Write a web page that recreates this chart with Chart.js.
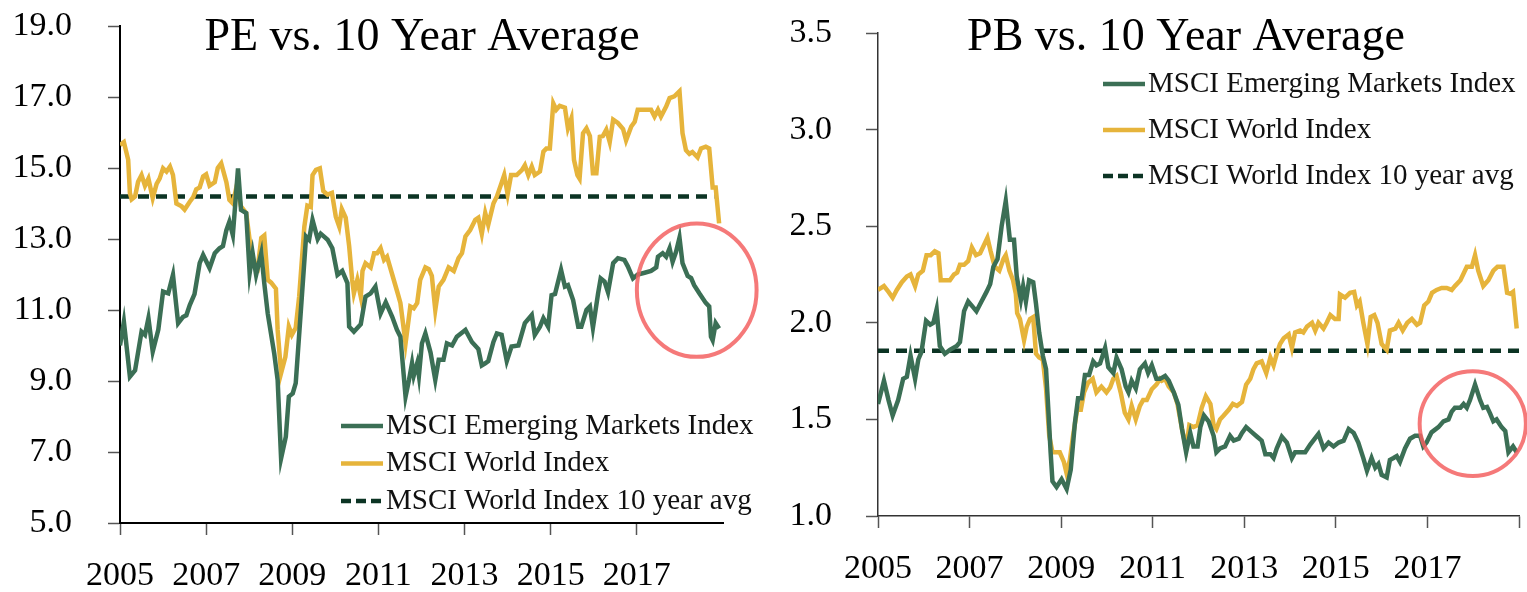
<!DOCTYPE html>
<html>
<head>
<meta charset="utf-8">
<script src="https://cdn.jsdelivr.net/npm/chart.js@4.4.0/dist/chart.umd.min.js"></script>
<style>
  html, body { margin: 0; padding: 0; background: #fff; }
  #wrap { position: relative; width: 1527px; height: 592px; overflow: hidden; background: #fff; }
  canvas { position: absolute; top: 0; }
  #peChart { left: 0; }
  #pbChart { left: 763px; }
</style>
</head>
<body>
<div id="wrap">
  <canvas id="peChart" width="763" height="592"></canvas>
  <canvas id="pbChart" width="764" height="592"></canvas>
</div>
<script>
// ---- data ----
const seriesLabels = ['MSCI Emerging Markets Index', 'MSCI World Index', 'MSCI World Index 10 year avg'];

// PE, emerging markets
const peEmYears = [2005.00,2005.09,2005.23,2005.35,2005.50,2005.58,2005.66,2005.76,2005.89,2006.00,2006.12,2006.23,2006.35,2006.46,2006.54,2006.62,2006.73,2006.85,2006.93,2007.08,2007.20,2007.31,2007.39,2007.47,2007.54,2007.62,2007.74,2007.81,2007.93,2008.01,2008.08,2008.16,2008.28,2008.35,2008.43,2008.58,2008.66,2008.74,2008.85,2008.92,2009.01,2009.08,2009.20,2009.32,2009.39,2009.47,2009.59,2009.66,2009.82,2009.93,2010.05,2010.16,2010.28,2010.32,2010.43,2010.59,2010.70,2010.82,2010.93,2011.05,2011.17,2011.32,2011.43,2011.51,2011.63,2011.71,2011.78,2011.82,2011.90,2011.94,2012.01,2012.09,2012.21,2012.32,2012.40,2012.51,2012.59,2012.71,2012.82,2013.02,2013.17,2013.32,2013.40,2013.48,2013.55,2013.67,2013.75,2013.86,2013.98,2014.09,2014.25,2014.40,2014.56,2014.63,2014.75,2014.83,2014.94,2015.02,2015.10,2015.24,2015.33,2015.40,2015.52,2015.64,2015.71,2015.83,2015.91,2015.98,2016.10,2016.16,2016.25,2016.33,2016.45,2016.56,2016.71,2016.79,2016.91,2017.02,2017.18,2017.33,2017.45,2017.49,2017.60,2017.68,2017.76,2017.83,2017.91,2017.99,2018.06,2018.18,2018.26,2018.33,2018.45,2018.60,2018.68,2018.72,2018.76,2018.83,2018.91];
const peEm = [10.0,10.67,9.12,9.3,10.39,10.3,10.77,9.83,10.45,11.52,11.47,11.99,10.63,10.8,10.85,11.14,11.45,12.32,12.55,12.18,12.6,12.74,12.8,13.25,13.49,13.11,14.99,13.82,13.73,12.04,12.6,11.99,12.6,11.75,10.9,9.78,9.03,6.82,7.43,8.56,8.65,8.94,11.0,13.07,12.98,13.54,13.0,13.15,12.98,12.74,11.99,12.1,11.76,10.53,10.39,10.6,11.38,11.47,11.66,10.9,11.22,10.81,10.44,10.25,8.56,9.03,9.5,9.15,9.5,9.15,10.06,10.34,9.8,9.03,9.6,9.6,10.06,10.0,10.25,10.44,10.1,9.9,9.44,9.5,9.56,10.1,10.34,10.3,9.56,9.97,10.0,10.63,10.86,10.3,10.53,10.77,10.53,11.42,11.45,12.13,11.66,11.7,11.28,10.53,10.53,11.0,11.1,10.5,11.47,11.89,11.8,11.5,12.32,12.46,12.41,12.23,11.89,12.0,12.05,12.1,12.2,12.5,12.6,12.5,12.74,12.36,12.64,13.04,12.32,11.96,11.9,11.7,11.47,11.2,11.1,10.25,10.15,10.63,10.48];

// PE, world
const peWorldYears = [2005.00,2005.09,2005.19,2005.23,2005.27,2005.35,2005.42,2005.50,2005.58,2005.66,2005.76,2005.85,2005.92,2006.00,2006.08,2006.16,2006.23,2006.31,2006.43,2006.50,2006.62,2006.70,2006.77,2006.85,2006.93,2007.00,2007.08,2007.20,2007.27,2007.35,2007.47,2007.54,2007.62,2007.71,2007.81,2007.93,2008.01,2008.08,2008.20,2008.28,2008.35,2008.43,2008.51,2008.62,2008.66,2008.74,2008.84,2008.92,2008.99,2009.08,2009.16,2009.28,2009.35,2009.43,2009.47,2009.55,2009.64,2009.72,2009.82,2009.92,2010.01,2010.09,2010.15,2010.24,2010.32,2010.39,2010.43,2010.51,2010.59,2010.63,2010.70,2010.82,2010.90,2010.97,2011.05,2011.13,2011.20,2011.32,2011.44,2011.51,2011.63,2011.74,2011.82,2011.90,2011.97,2012.09,2012.17,2012.24,2012.32,2012.40,2012.51,2012.63,2012.75,2012.86,2012.94,2013.02,2013.13,2013.25,2013.32,2013.40,2013.48,2013.55,2013.67,2013.75,2013.85,2013.92,2014.00,2014.08,2014.21,2014.33,2014.40,2014.48,2014.56,2014.63,2014.75,2014.83,2014.90,2014.98,2015.06,2015.13,2015.21,2015.33,2015.40,2015.48,2015.54,2015.62,2015.67,2015.75,2015.83,2015.91,2015.98,2016.06,2016.14,2016.21,2016.29,2016.37,2016.45,2016.56,2016.68,2016.75,2016.87,2016.95,2017.02,2017.18,2017.33,2017.41,2017.49,2017.56,2017.68,2017.76,2017.87,2017.99,2018.06,2018.14,2018.22,2018.29,2018.41,2018.49,2018.60,2018.68,2018.76,2018.83,2018.91];
const peWorld = [15.65,15.73,15.23,14.29,14.12,14.2,14.61,14.8,14.5,14.7,14.15,14.55,14.7,14.99,14.9,15.04,14.8,14.0,13.92,13.83,14.05,14.18,14.4,14.45,14.76,14.82,14.5,14.6,15.0,15.13,14.6,14.1,14.0,14.5,13.92,13.73,12.97,12.4,12.2,13.03,13.1,11.85,11.77,11.6,10.44,9.22,9.68,10.53,10.3,10.5,11.38,13.35,13.94,13.9,14.8,14.95,14.99,14.35,14.25,14.3,13.63,13.35,13.84,13.6,12.8,11.85,11.47,11.85,11.38,12.1,12.32,12.2,12.6,12.6,12.74,12.41,12.5,12.0,11.5,11.2,10.06,11.1,11.05,11.2,11.85,12.2,12.15,11.96,11.0,11.66,11.85,12.2,12.1,12.46,12.6,13.07,13.25,13.54,13.6,13.15,13.73,13.4,14.0,14.2,14.55,14.8,14.26,14.8,14.8,14.94,15.08,14.8,15.04,14.8,14.9,15.46,15.55,15.55,16.82,16.64,16.75,16.7,16.12,16.4,15.23,14.8,14.7,15.98,16.12,15.9,14.85,14.85,15.88,15.9,16.08,15.73,16.36,16.27,16.1,15.78,16.17,16.3,16.64,16.64,16.64,16.45,16.64,16.45,16.73,16.97,17.02,17.16,15.98,15.5,15.4,15.45,15.3,15.55,15.6,15.55,14.45,14.45,13.44];

const peAvgYears = [2005.0, 2018.8];
const peAvg = [14.2, 14.2];

// PB, emerging markets
const pbEmYears = [2005.00,2005.13,2005.23,2005.32,2005.44,2005.55,2005.63,2005.71,2005.81,2005.88,2005.95,2006.05,2006.14,2006.21,2006.28,2006.35,2006.46,2006.57,2006.72,2006.79,2006.88,2006.97,2007.08,2007.15,2007.26,2007.37,2007.45,2007.52,2007.61,2007.70,2007.79,2007.88,2007.97,2008.03,2008.12,2008.17,2008.23,2008.30,2008.39,2008.45,2008.52,2008.60,2008.67,2008.72,2008.77,2008.81,2008.90,2009.01,2009.12,2009.21,2009.30,2009.37,2009.45,2009.52,2009.61,2009.70,2009.77,2009.85,2009.96,2010.03,2010.14,2010.21,2010.32,2010.41,2010.47,2010.54,2010.63,2010.72,2010.83,2010.90,2010.98,2011.08,2011.16,2011.27,2011.35,2011.46,2011.56,2011.64,2011.73,2011.82,2011.89,2011.98,2012.04,2012.12,2012.22,2012.33,2012.39,2012.47,2012.58,2012.69,2012.77,2012.88,2012.95,2013.04,2013.17,2013.28,2013.38,2013.46,2013.57,2013.64,2013.71,2013.82,2013.93,2014.04,2014.11,2014.22,2014.33,2014.44,2014.62,2014.73,2014.84,2014.95,2015.06,2015.17,2015.28,2015.39,2015.49,2015.60,2015.68,2015.78,2015.86,2015.93,2016.00,2016.11,2016.18,2016.26,2016.33,2016.40,2016.51,2016.62,2016.73,2016.84,2016.91,2016.98,2017.09,2017.24,2017.35,2017.46,2017.53,2017.60,2017.72,2017.79,2017.86,2017.93,2018.04,2018.15,2018.22,2018.30,2018.37,2018.44,2018.51,2018.62,2018.70,2018.77,2018.87,2018.95];
const pbEm = [1.58,1.70,1.60,1.52,1.60,1.71,1.72,1.83,1.71,1.81,1.85,2.01,1.99,2.0,2.07,1.88,1.84,1.86,1.88,1.90,2.06,2.11,2.08,2.06,2.11,2.16,2.20,2.29,2.33,2.50,2.63,2.43,2.43,2.24,2.12,2.19,2.11,2.22,2.21,2.10,1.95,1.83,1.76,1.55,1.33,1.18,1.15,1.19,1.14,1.24,1.48,1.61,1.61,1.73,1.73,1.80,1.78,1.79,1.87,1.77,1.74,1.82,1.76,1.67,1.64,1.70,1.66,1.76,1.79,1.74,1.78,1.71,1.71,1.725,1.70,1.64,1.575,1.45,1.33,1.43,1.36,1.36,1.46,1.52,1.49,1.415,1.33,1.35,1.36,1.415,1.39,1.40,1.43,1.46,1.433,1.41,1.39,1.32,1.32,1.30,1.35,1.41,1.38,1.30,1.33,1.33,1.33,1.37,1.425,1.35,1.38,1.36,1.38,1.39,1.45,1.43,1.38,1.30,1.234,1.30,1.25,1.27,1.213,1.20,1.29,1.30,1.31,1.28,1.35,1.40,1.415,1.415,1.36,1.38,1.433,1.46,1.49,1.50,1.54,1.56,1.56,1.58,1.56,1.60,1.68,1.60,1.56,1.565,1.53,1.49,1.50,1.46,1.44,1.33,1.36,1.33];

// PB, world
const pbWorldYears = [2005.00,2005.13,2005.23,2005.32,2005.41,2005.52,2005.63,2005.71,2005.81,2005.88,2005.98,2006.06,2006.15,2006.24,2006.32,2006.37,2006.48,2006.57,2006.66,2006.73,2006.79,2006.88,2006.97,2007.05,2007.14,2007.23,2007.31,2007.39,2007.46,2007.55,2007.65,2007.74,2007.79,2007.87,2007.95,2008.01,2008.04,2008.10,2008.19,2008.25,2008.32,2008.39,2008.45,2008.52,2008.60,2008.67,2008.74,2008.81,2008.90,2008.97,2009.06,2009.12,2009.19,2009.26,2009.35,2009.43,2009.50,2009.59,2009.69,2009.77,2009.88,2009.99,2010.07,2010.14,2010.21,2010.30,2010.39,2010.47,2010.54,2010.63,2010.72,2010.79,2010.87,2010.98,2011.08,2011.16,2011.20,2011.27,2011.35,2011.46,2011.54,2011.64,2011.73,2011.80,2011.89,2011.98,2012.07,2012.16,2012.26,2012.33,2012.39,2012.47,2012.55,2012.66,2012.75,2012.84,2012.95,2013.04,2013.13,2013.20,2013.27,2013.38,2013.48,2013.57,2013.64,2013.71,2013.78,2013.86,2013.97,2014.04,2014.11,2014.22,2014.29,2014.37,2014.48,2014.55,2014.62,2014.73,2014.80,2014.88,2014.98,2015.06,2015.09,2015.20,2015.31,2015.40,2015.46,2015.52,2015.60,2015.69,2015.76,2015.84,2015.91,2016.00,2016.11,2016.18,2016.30,2016.37,2016.46,2016.56,2016.66,2016.77,2016.84,2016.93,2017.02,2017.10,2017.20,2017.31,2017.42,2017.53,2017.60,2017.72,2017.86,2017.97,2018.04,2018.11,2018.22,2018.33,2018.44,2018.53,2018.66,2018.74,2018.81,2018.87,2018.95];
const pbWorld = [2.17,2.19,2.16,2.13,2.17,2.21,2.24,2.25,2.19,2.25,2.27,2.35,2.35,2.37,2.36,2.22,2.22,2.22,2.25,2.26,2.30,2.30,2.32,2.39,2.35,2.36,2.40,2.44,2.37,2.29,2.27,2.33,2.35,2.27,2.22,2.15,2.05,2.02,1.91,1.98,2.02,2.03,1.84,1.82,1.81,1.66,1.415,1.33,1.33,1.33,1.28,1.22,1.29,1.415,1.55,1.55,1.64,1.69,1.71,1.64,1.67,1.64,1.665,1.71,1.725,1.64,1.535,1.50,1.57,1.50,1.57,1.60,1.60,1.656,1.68,1.71,1.70,1.71,1.67,1.64,1.58,1.45,1.35,1.47,1.46,1.47,1.56,1.62,1.58,1.47,1.45,1.50,1.52,1.55,1.58,1.57,1.59,1.68,1.71,1.76,1.79,1.80,1.74,1.82,1.78,1.84,1.89,1.92,1.94,1.87,1.95,1.96,1.95,1.98,2.00,1.96,2.00,1.97,2.00,2.04,2.02,2.02,2.147,2.13,2.155,2.16,2.09,2.11,2.00,1.89,2.03,2.04,2.00,1.89,1.86,1.96,1.97,2.00,1.96,2.00,2.02,1.99,2.00,2.09,2.11,2.155,2.17,2.18,2.18,2.17,2.19,2.22,2.29,2.29,2.35,2.27,2.19,2.22,2.27,2.29,2.29,2.155,2.15,2.16,1.97];

const pbAvgYears = [2005.0, 2019.0];
const pbAvg = [1.855, 1.855];

const yearTicks = [2005, 2007, 2009, 2011, 2013, 2015, 2017, 2019];

// highlight ellipses in data units: [centre year, centre value, half width (years), half height (value)]
const peHighlight = [2018.39, 11.56, 1.39, 1.88];
const pbHighlight = [2017.99, 1.478, 1.16, 0.271];

// ---- drawing ----
const GREEN = '#3b6f55';
const GOLD = '#e6b43b';
const DARK = '#0c3424';
const FONT = '"Liberation Serif", "Times New Roman", serif';

function points(xs, ys) {
  return xs.map((x, i) => ({ x: x, y: ys[i] }));
}

const decor = {
  id: 'decor',
  afterDatasetsDraw(chart, args, opts) {
    const ctx = chart.ctx;
    const xs = chart.scales.x, ys = chart.scales.y;

    // red highlight ring
    const [cx, cy, rx, ry] = opts.circle;
    const px = xs.getPixelForValue(cx), py = ys.getPixelForValue(cy);
    const rpx = Math.abs(xs.getPixelForValue(cx + rx) - px);
    const rpy = Math.abs(ys.getPixelForValue(cy + ry) - py);
    ctx.save();
    ctx.strokeStyle = 'rgba(243, 98, 98, 0.85)';
    ctx.lineWidth = 4;
    ctx.beginPath();
    ctx.ellipse(px, py, rpx, rpy, 0, 0, Math.PI * 2);
    ctx.stroke();
    ctx.restore();

    // title sits inside the plot
    ctx.save();
    ctx.fillStyle = '#000';
    ctx.font = '46px ' + FONT;
    ctx.textAlign = 'center';
    ctx.textBaseline = 'alphabetic';
    ctx.fillText(opts.title, opts.titleX, opts.titleY);
    ctx.restore();

    // legend
    chart.data.datasets.forEach((ds, i) => {
      const y = opts.legendTop + i * opts.legendGap;
      ctx.save();
      ctx.strokeStyle = ds.borderColor;
      ctx.lineWidth = 4.5;
      ctx.setLineDash(ds.borderDash ? [10, 5] : []);
      ctx.beginPath();
      ctx.moveTo(opts.legendX, y);
      ctx.lineTo(opts.legendX + 42, y);
      ctx.stroke();
      ctx.fillStyle = '#111';
      ctx.font = '29px ' + FONT;
      ctx.textBaseline = 'middle';
      ctx.textAlign = 'left';
      ctx.fillText(ds.label, opts.legendX + 45, y);
      ctx.restore();
    });
  }
};

function makeChart(id, cfg) {
  const ctx = document.getElementById(id).getContext('2d');
  return new Chart(ctx, {
    type: 'line',
    data: {
      datasets: [{
        label: seriesLabels[0],
        data: points(cfg.emYears, cfg.em),
        borderColor: GREEN,
        borderWidth: 4.5
      }, {
        label: seriesLabels[1],
        data: points(cfg.worldYears, cfg.world),
        borderColor: GOLD,
        borderWidth: 4.5
      }, {
        label: seriesLabels[2],
        data: points(cfg.avgYears, cfg.avg),
        borderColor: DARK,
        borderWidth: 4.5,
        borderDash: [11, 7],
        borderCapStyle: 'butt'
      }]
    },
    options: {
      responsive: false,
      devicePixelRatio: 1,
      animation: false,
      elements: { point: { radius: 0 }, line: { tension: 0, fill: false } },
      layout: { padding: cfg.padding },
      plugins: {
        legend: { display: false },
        tooltip: { enabled: false },
        decor: cfg.decor
      },
      scales: {
        x: {
          type: 'linear',
          min: 2005,
          max: 2019,
          afterBuildTicks: s => { s.ticks = yearTicks.map(v => ({ value: v })); },
          afterFit: s => { s.height = cfg.xHeight; s.paddingLeft = 0; s.paddingRight = 0; },
          ticks: {
            autoSkip: false,
            maxRotation: 0,
            padding: 21,
            color: '#000',
            font: { family: FONT, size: 34 },
            callback: v => (v < 2019 ? String(v) : '')
          },
          grid: {
            drawOnChartArea: false,
            tickLength: 12,
            tickWidth: 1.5,
            tickColor: c => (c.tick && c.tick.value === 2019 && !cfg.endTick ? 'rgba(0,0,0,0)' : '#555')
          },
          border: { display: true, color: cfg.axisColor, width: cfg.axisWidth }
        },
        y: {
          min: cfg.yMin,
          max: cfg.yMax,
          afterFit: s => { s.width = cfg.yWidth; s.paddingTop = 0; s.paddingBottom = 0; },
          ticks: {
            stepSize: cfg.yStep,
            padding: cfg.yPad,
            color: '#000',
            font: { family: FONT, size: 34 },
            callback: v => Number(v).toFixed(1)
          },
          grid: {
            drawOnChartArea: false,
            tickLength: 12,
            tickWidth: 1.5,
            tickColor: '#555'
          },
          border: { display: true, color: cfg.axisColor, width: cfg.axisWidth }
        }
      }
    },
    plugins: [decor]
  });
}

makeChart('peChart', {
  emYears: peEmYears, em: peEm,
  worldYears: peWorldYears, world: peWorld,
  avgYears: peAvgYears, avg: peAvg,
  yMin: 5, yMax: 19, yStep: 2,
  padding: { left: 0, right: 40, top: 26, bottom: 0 },
  yWidth: 120, xHeight: 69, yPad: 36,
  axisColor: '#000', axisWidth: 2, endTick: false,
  decor: {
    circle: peHighlight,
    title: 'PE vs. 10 Year Average', titleX: 422, titleY: 50,
    legendX: 341, legendTop: 426, legendGap: 37.5
  }
});

makeChart('pbChart', {
  emYears: pbEmYears, em: pbEm,
  worldYears: pbWorldYears, world: pbWorld,
  avgYears: pbAvgYears, avg: pbAvg,
  yMin: 1, yMax: 3.5, yStep: 0.5,
  padding: { left: 0, right: 8, top: 33, bottom: 0 },
  yWidth: 115, xHeight: 76, yPad: 34,
  axisColor: '#333', axisWidth: 1.5, endTick: true,
  decor: {
    circle: pbHighlight,
    title: 'PB vs. 10 Year Average', titleX: 423, titleY: 50,
    legendX: 340, legendTop: 84, legendGap: 46
  }
});
</script>
</body>
</html>
